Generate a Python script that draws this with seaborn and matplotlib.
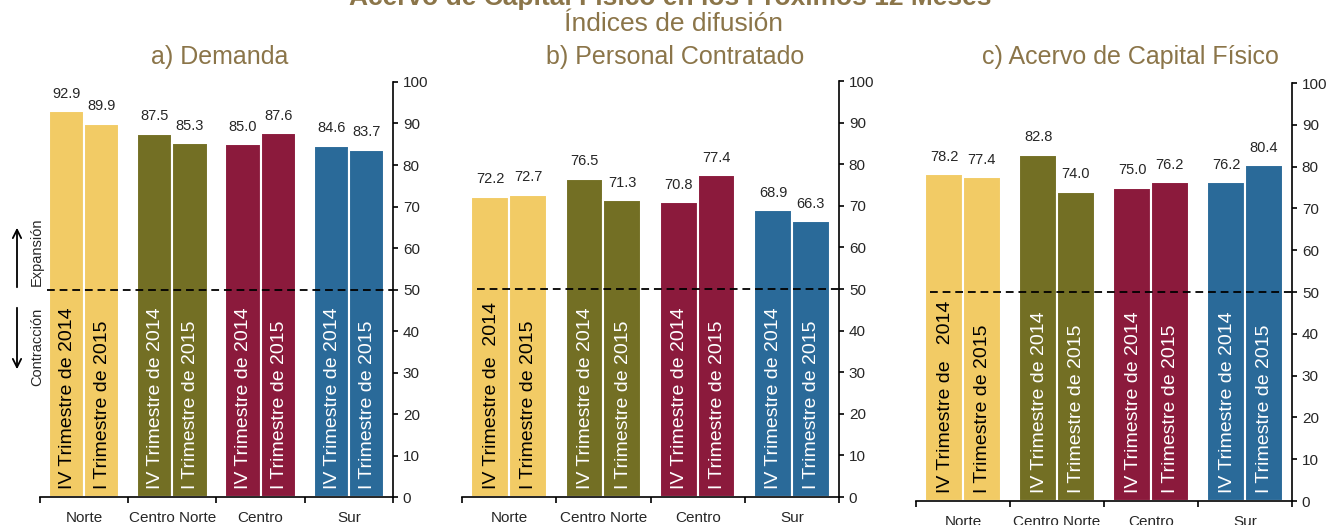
import matplotlib
matplotlib.use("Agg")
import matplotlib.pyplot as plt
import seaborn as sns
import pandas as pd

regiones = ["Norte", "Centro Norte", "Centro", "Sur"]
periodos = ["IV Trimestre de 2014", "I Trimestre de 2015"]
colores = ["#F2CB65", "#736F24", "#8B1A3C", "#2A6A99"]

demanda = [[92.9, 87.5, 85.0, 84.6], [89.9, 85.3, 87.6, 83.7]]
personal = [[72.2, 76.5, 70.8, 68.9], [72.7, 71.3, 77.4, 66.3]]
acervo = [[78.2, 82.8, 75.0, 76.2], [77.4, 74.0, 76.2, 80.4]]

titulos = ["a) Demanda", "b) Personal Contratado", "c) Acervo de Capital Físico"]
# el texto del primer periodo en Norte trae espacios de más en b) y c)
norte_iv = ["IV Trimestre de 2014", "IV Trimestre de  2014", "IV Trimestre de   2014"]

sns.set_style("white")
plt.rcParams['font.family'] = ['Liberation Sans', 'DejaVu Sans']
cafe = "#8B7549"

fig = plt.figure(figsize=(13.35, 5.25), dpi=100)
posiciones = [[0.02996, 0.05333, 0.26442, 0.79048],
              [0.34607, 0.05333, 0.28240, 0.79238],
              [0.68614, 0.04571, 0.28165, 0.79619]]
inicio_linea = [0.02, 0.04, 0.037]
x_titulo = [0.1648, 0.5056, 0.8464]

for k, datos in enumerate([demanda, personal, acervo]):
    ax = fig.add_axes(posiciones[k])
    df = pd.DataFrame({
        "region": regiones * 2,
        "periodo": [periodos[0]] * 4 + [periodos[1]] * 4,
        "valor": datos[0] + datos[1],
    })
    sns.barplot(data=df, x="region", y="valor", hue="periodo", hue_order=periodos,
                order=regiones, width=0.8, dodge=True, ax=ax, legend=False,
                edgecolor="white", linewidth=1.5, saturation=1)
    for h, cont in enumerate(ax.containers):
        for i, bar in enumerate(cont):
            bar.set_facecolor(colores[i])
            etiqueta = periodos[h]
            if h == 0 and i == 0:
                etiqueta = norte_iv[k]
            ax.text(bar.get_x() + bar.get_width() / 2 + 0.01, 2, etiqueta, rotation=90,
                    ha="center", va="bottom", fontsize=14,
                    color="black" if i == 0 else "white")
        ax.bar_label(cont, fmt="%.1f", padding=7.5, fontsize=10.5)

    ax.axhline(50, xmin=inicio_linea[k], xmax=1, color="black", lw=1.3,
               dashes=(4.3, 2.7), zorder=5)

    ax.set_xlim(-0.5, 3.5)
    ax.set_ylim(0, 100)
    ax.set_yticks(range(0, 101, 10))
    ax.yaxis.tick_right()
    ax.set_xlabel("")
    ax.set_ylabel("")
    ax.set_xticks([-0.5, 0.5, 1.5, 2.5, 3.5], minor=True)
    ax.tick_params(axis="x", which="major", length=0, pad=10, labelsize=11)
    ax.tick_params(axis="x", which="minor", length=4.5, width=1.2, direction="out",
                   color="black", bottom=True)
    ax.tick_params(axis="y", which="major", length=3.6, width=1.2, direction="out",
                   color="black", right=True, left=False, labelsize=11, pad=3.5)
    for lado in ["left", "top"]:
        ax.spines[lado].set_visible(False)
    for lado in ["right", "bottom"]:
        ax.spines[lado].set_color("black")
        ax.spines[lado].set_linewidth(1.2)

    fig.text(x_titulo[k], 1 - 57 / 525, titulos[k], ha="center", va="center",
             fontsize=18, color=cafe)

# el titulo principal queda recortado arriba, como en el original
fig.text(0.502, 1 - 5 / 525, "Acervo de Capital Físico en los Próximos 12 Meses",
         ha="center", va="baseline", fontsize=19, fontweight="bold", color=cafe)
fig.text(0.5045, 1 - 24 / 525, "Índices de difusión", ha="center", va="center",
         fontsize=19, color=cafe)

# flechas de expansión / contracción
fig.add_artist(matplotlib.patches.FancyArrowPatch(
    (17 / 1335, 1 - 290 / 525), (17 / 1335, 1 - 225 / 525), transform=fig.transFigure,
    arrowstyle="->,head_length=6,head_width=3", lw=1.3, color="black"))
fig.add_artist(matplotlib.patches.FancyArrowPatch(
    (17 / 1335, 1 - 305 / 525), (17 / 1335, 1 - 372 / 525), transform=fig.transFigure,
    arrowstyle="->,head_length=6,head_width=3", lw=1.3, color="black"))
fig.text(37 / 1335, 1 - 252 / 525, "Expansión", rotation=90, ha="center", va="center",
         fontsize=10.5)
fig.text(37 / 1335, 1 - 347 / 525, "Contracción", rotation=90, ha="center", va="center",
         fontsize=10.5)

fig.savefig("out.png", dpi=100)
